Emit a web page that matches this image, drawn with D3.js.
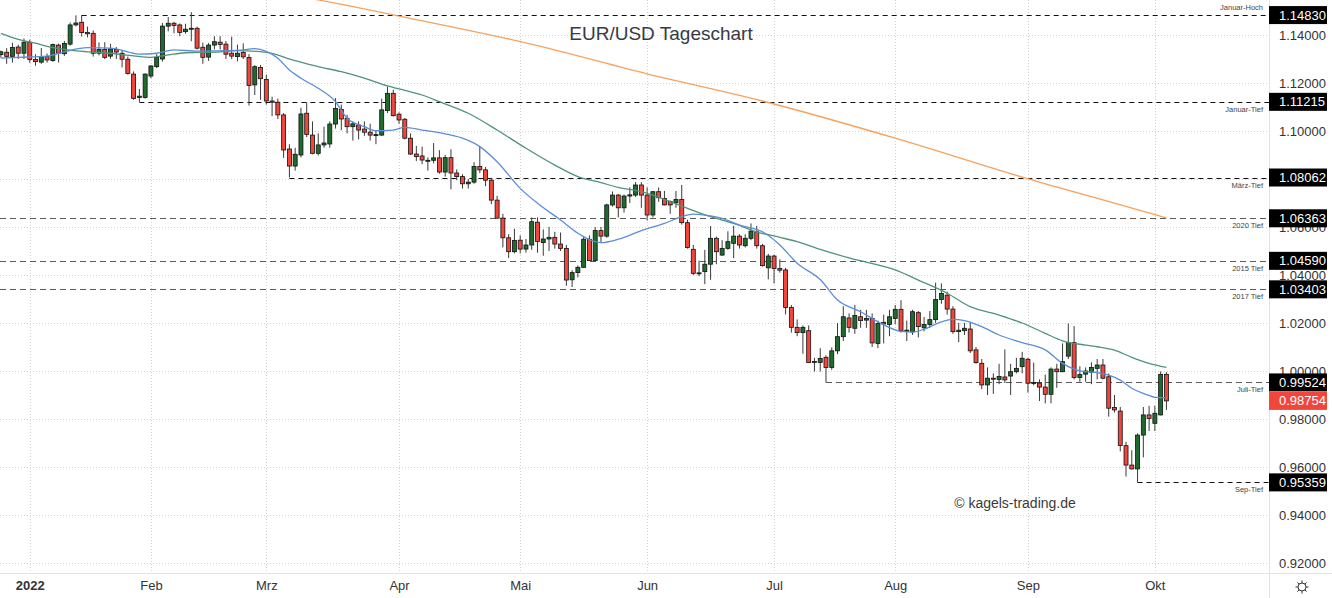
<!DOCTYPE html>
<html><head><meta charset="utf-8">
<script src="https://cdn.jsdelivr.net/npm/d3@7"></script>
<style>html,body{margin:0;padding:0;background:#fff;overflow:hidden}</style>
</head><body>
<svg id="chart" width="1332" height="598"></svg>
<script>
// ---------- DATA ----------
const dates = [
"2021-12-27","2021-12-28","2021-12-29","2021-12-30","2021-12-31",
"2022-01-03","2022-01-04","2022-01-05","2022-01-06","2022-01-07","2022-01-10","2022-01-11","2022-01-12","2022-01-13","2022-01-14","2022-01-17","2022-01-18","2022-01-19","2022-01-20","2022-01-21","2022-01-24","2022-01-25","2022-01-26","2022-01-27","2022-01-28","2022-01-31",
"2022-02-01","2022-02-02","2022-02-03","2022-02-04","2022-02-07","2022-02-08","2022-02-09","2022-02-10","2022-02-11","2022-02-14","2022-02-15","2022-02-16","2022-02-17","2022-02-18","2022-02-21","2022-02-22","2022-02-23","2022-02-24","2022-02-25","2022-02-28",
"2022-03-01","2022-03-02","2022-03-03","2022-03-04","2022-03-07","2022-03-08","2022-03-09","2022-03-10","2022-03-11","2022-03-14","2022-03-15","2022-03-16","2022-03-17","2022-03-18","2022-03-21","2022-03-22","2022-03-23","2022-03-24","2022-03-25","2022-03-28","2022-03-29","2022-03-30","2022-03-31",
"2022-04-01","2022-04-04","2022-04-05","2022-04-06","2022-04-07","2022-04-08","2022-04-11","2022-04-12","2022-04-13","2022-04-14","2022-04-15","2022-04-18","2022-04-19","2022-04-20","2022-04-21","2022-04-22","2022-04-25","2022-04-26","2022-04-27","2022-04-28","2022-04-29",
"2022-05-02","2022-05-03","2022-05-04","2022-05-05","2022-05-06","2022-05-09","2022-05-10","2022-05-11","2022-05-12","2022-05-13","2022-05-16","2022-05-17","2022-05-18","2022-05-19","2022-05-20","2022-05-23","2022-05-24","2022-05-25","2022-05-26","2022-05-27","2022-05-30","2022-05-31",
"2022-06-01","2022-06-02","2022-06-03","2022-06-06","2022-06-07","2022-06-08","2022-06-09","2022-06-10","2022-06-13","2022-06-14","2022-06-15","2022-06-16","2022-06-17","2022-06-20","2022-06-21","2022-06-22","2022-06-23","2022-06-24","2022-06-27","2022-06-28","2022-06-29","2022-06-30",
"2022-07-01","2022-07-04","2022-07-05","2022-07-06","2022-07-07","2022-07-08","2022-07-11","2022-07-12","2022-07-13","2022-07-14","2022-07-15","2022-07-18","2022-07-19","2022-07-20","2022-07-21","2022-07-22","2022-07-25","2022-07-26","2022-07-27","2022-07-28","2022-07-29",
"2022-08-01","2022-08-02","2022-08-03","2022-08-04","2022-08-05","2022-08-08","2022-08-09","2022-08-10","2022-08-11","2022-08-12","2022-08-15","2022-08-16","2022-08-17","2022-08-18","2022-08-19","2022-08-22","2022-08-23","2022-08-24","2022-08-25","2022-08-26","2022-08-29","2022-08-30","2022-08-31",
"2022-09-01","2022-09-02","2022-09-05","2022-09-06","2022-09-07","2022-09-08","2022-09-09","2022-09-12","2022-09-13","2022-09-14","2022-09-15","2022-09-16","2022-09-19","2022-09-20","2022-09-21","2022-09-22","2022-09-23","2022-09-26","2022-09-27","2022-09-28","2022-09-29","2022-09-30",
"2022-10-03","2022-10-04","2022-10-05"];

const open = [
1.1318,1.1328,1.1311,1.1350,1.1324,
1.1370,1.1298,1.1287,1.1310,1.1294,1.1358,1.1322,1.1362,1.1442,1.1453,1.1411,1.1407,1.1324,1.1340,1.1312,1.1340,1.1324,1.1299,1.1237,1.1140,1.1140,
1.1229,1.1268,1.1300,1.1437,1.1449,1.1442,1.1414,1.1424,1.1428,1.1349,1.1308,1.1358,1.1370,1.1362,1.1324,1.1310,1.1327,1.1306,1.1192,1.1265,
1.1215,1.1125,1.1120,1.1067,1.0925,1.0854,1.0900,1.1074,1.0983,1.0907,1.0942,1.0946,1.1029,1.1090,1.1053,1.1018,1.1025,1.1008,1.0995,1.0983,1.0983,1.1085,1.1157,
1.1070,1.1049,1.0970,1.0904,1.0896,1.0877,1.0878,1.0888,1.0829,1.0889,1.0825,1.0810,1.0780,1.0787,1.0852,1.0838,1.0795,1.0712,1.0637,1.0555,1.0497,
1.0545,1.0508,1.0525,1.0620,1.0535,1.0550,1.0557,1.0529,1.0511,1.0380,1.0410,1.0432,1.0549,1.0460,1.0585,1.0562,1.0692,1.0733,1.0680,1.0729,1.0733,1.0775,
1.0733,1.0650,1.0747,1.0719,1.0706,1.0701,1.0715,1.0618,1.0507,1.0407,1.0414,1.0445,1.0553,1.0483,1.0511,1.0532,1.0562,1.0522,1.0553,1.0580,1.0522,1.0430,
1.0479,1.0427,1.0421,1.0265,1.0182,1.0160,1.0168,1.0040,1.0035,1.0057,1.0015,1.0084,1.0143,1.0221,1.0178,1.0226,1.0212,1.0219,1.0115,1.0203,1.0194,
1.0219,1.0257,1.0167,1.0163,1.0243,1.0180,1.0194,1.0214,1.0298,1.0316,1.0258,1.0164,1.0168,1.0175,1.0088,1.0032,0.9942,0.9970,0.9965,0.9975,0.9979,0.9997,1.0018,
1.0049,0.9949,0.9950,0.9933,0.9903,1.0008,0.9997,1.0062,1.0118,0.9973,0.9987,0.9995,1.0011,1.0025,0.9976,0.9848,0.9833,0.9689,0.9608,0.9592,0.9733,0.9817,
0.9782,0.9817,0.9986];

const high = [
1.1335,1.1345,1.1368,1.1360,1.1385,
1.1380,1.1320,1.1346,1.1323,1.1364,1.1364,1.1375,1.1452,1.1482,1.1483,1.1435,1.1419,1.1369,1.1370,1.1363,1.1350,1.1335,1.1310,1.1248,1.1175,1.1240,
1.1274,1.1320,1.1450,1.1475,1.1455,1.1448,1.1447,1.1495,1.1435,1.1368,1.1367,1.1395,1.1395,1.1375,1.1393,1.1360,1.1365,1.1320,1.1274,1.1275,
1.1235,1.1143,1.1135,1.1075,1.0945,1.0930,1.1097,1.1120,1.1040,1.0990,1.1018,1.1040,1.1137,1.1110,1.1068,1.1040,1.1040,1.1040,1.1030,1.1000,1.1135,1.1185,1.1172,
1.1078,1.1054,1.0990,1.0938,1.0935,1.0890,1.0950,1.0920,1.0900,1.0924,1.0840,1.0820,1.0800,1.0870,1.0936,1.0850,1.0805,1.0730,1.0655,1.0570,1.0593,
1.0565,1.0550,1.0640,1.0640,1.0590,1.0600,1.0580,1.0577,1.0525,1.0420,1.0440,1.0560,1.0565,1.0600,1.0600,1.0697,1.0748,1.0738,1.0735,1.0765,1.0787,1.0787,
1.0765,1.0750,1.0765,1.0750,1.0710,1.0750,1.0775,1.0630,1.0525,1.0460,1.0505,1.0604,1.0560,1.0545,1.0582,1.0605,1.0570,1.0570,1.0615,1.0605,1.0530,1.0488,
1.0485,1.0465,1.0430,1.0275,1.0215,1.0190,1.0190,1.0055,1.0095,1.0065,1.0098,1.0200,1.0270,1.0240,1.0275,1.0255,1.0255,1.0240,1.0210,1.0235,1.0255,
1.0275,1.0295,1.0210,1.0255,1.0250,1.0225,1.0250,1.0368,1.0365,1.0330,1.0270,1.0200,1.0200,1.0200,1.0100,1.0050,1.0015,0.9990,1.0030,1.0090,1.0030,1.0055,1.0080,
1.0055,1.0035,0.9965,0.9985,1.0015,1.0030,1.0115,1.0198,1.0187,1.0020,1.0015,1.0036,1.0050,1.0050,0.9990,0.9900,0.9850,0.9705,0.9670,0.9740,0.9850,0.9855,
0.9855,0.9998,0.9995];

const low = [
1.1305,1.1280,1.1285,1.1300,1.1300,
1.1284,1.1272,1.1280,1.1285,1.1288,1.1285,1.1313,1.1355,1.1436,1.1394,1.1390,1.1310,1.1315,1.1300,1.1301,1.1300,1.1265,1.1235,1.1130,1.11215,1.1135,
1.1220,1.1262,1.1289,1.1415,1.1407,1.1395,1.1405,1.1374,1.1340,1.1280,1.1292,1.1340,1.1340,1.1300,1.1300,1.1290,1.1300,1.1106,1.1150,1.1130,
1.1110,1.1062,1.1050,1.0888,1.08062,1.0835,1.0890,1.0975,1.0903,1.0898,1.0930,1.0930,1.1010,1.1003,1.0990,1.0960,1.0965,1.0980,1.0960,1.0945,1.0980,1.1075,1.1060,
1.1030,1.0965,1.0900,1.0875,1.0862,1.0835,1.0865,1.0822,1.0810,1.0757,1.0795,1.0760,1.0760,1.0780,1.0825,1.0770,1.0695,1.0635,1.0515,1.0471,1.0490,
1.0490,1.0493,1.0505,1.0493,1.0480,1.0500,1.0510,1.0500,1.0355,1.0350,1.0390,1.0430,1.0460,1.0455,1.0535,1.0555,1.0685,1.0640,1.0660,1.0700,1.0725,1.0680,
1.0627,1.0640,1.0705,1.0690,1.0655,1.0680,1.0610,1.0510,1.0400,1.0395,1.0362,1.0380,1.0445,1.0480,1.0505,1.0470,1.0510,1.0515,1.0545,1.0510,1.0435,1.0382,
1.0365,1.0410,1.0236,1.0160,1.0145,1.0072,1.0035,0.9998,0.9998,0.99524,1.0005,1.0070,1.0125,1.0160,1.0155,1.0180,1.0180,1.0100,1.0095,1.0115,1.0145,
1.0195,1.0160,1.0125,1.0150,1.0140,1.0165,1.0180,1.0200,1.0280,1.0235,1.0155,1.0120,1.0150,1.0075,1.0030,0.9925,0.9900,0.9905,0.9945,0.9950,0.9900,0.9990,0.9990,
0.9910,0.9940,0.9875,0.9865,0.9865,0.9930,0.9995,1.0050,0.9965,0.9955,0.9955,0.9945,0.9965,0.9965,0.9810,0.9827,0.9665,0.9560,0.9590,0.95359,0.9640,0.9750,
0.9750,0.9815,0.9838];

const close = [
1.1330,1.1311,1.1348,1.1324,1.1370,
1.1298,1.1289,1.1310,1.1296,1.1360,1.1324,1.1365,1.1442,1.1450,1.1410,1.1405,1.1324,1.1340,1.1307,1.1342,1.1329,1.1299,1.1240,1.1136,1.1145,1.1237,
1.1271,1.1307,1.1437,1.1449,1.1440,1.1411,1.1424,1.1428,1.1345,1.1307,1.1358,1.1372,1.1361,1.1320,1.1312,1.1324,1.1309,1.1190,1.1268,1.1218,
1.1125,1.1120,1.1067,1.0921,1.0854,1.0903,1.1071,1.0986,1.0907,1.0942,1.0950,1.1029,1.1094,1.1050,1.1018,1.1030,1.1004,1.0995,1.0983,1.0985,1.1088,1.1157,1.1064,
1.1046,1.0970,1.0904,1.0893,1.0879,1.0878,1.0888,1.0829,1.0889,1.0825,1.0810,1.0780,1.0787,1.0852,1.0838,1.0795,1.0712,1.0637,1.0555,1.0497,1.0544,
1.0508,1.0525,1.0622,1.0540,1.0550,1.0557,1.0529,1.0511,1.0379,1.0410,1.0432,1.0549,1.0460,1.0585,1.0562,1.0692,1.0733,1.0680,1.0729,1.0734,1.0775,1.0733,
1.0650,1.0747,1.0722,1.0692,1.0692,1.0715,1.0618,1.0515,1.0407,1.0409,1.0445,1.0553,1.0497,1.0511,1.0539,1.0562,1.0525,1.0553,1.0583,1.0522,1.0439,1.0479,
1.0427,1.0420,1.0265,1.0182,1.0160,1.0182,1.0035,1.0037,1.0052,1.0015,1.0084,1.0143,1.0226,1.0182,1.0231,1.0210,1.0219,1.0117,1.0198,1.0196,1.0226,
1.0257,1.0167,1.0170,1.0247,1.0185,1.0194,1.0214,1.0298,1.0323,1.0258,1.0164,1.0170,1.0178,1.0084,1.0035,0.9942,0.9970,0.9968,0.9977,0.9963,0.9997,1.0011,1.0053,
0.9949,0.9952,0.9933,0.9903,1.0008,0.9997,1.0039,1.0118,0.9973,0.9985,1.0000,1.0015,1.0025,0.9970,0.9845,0.9838,0.9690,0.9608,0.9592,0.9733,0.9817,0.9802,
0.9824,0.9986,0.98754];

// moving averages, read at sample dates
const ma20Dates = ["2021-12-27","2021-12-30","2022-01-06","2022-01-11","2022-01-17","2022-01-21","2022-01-26","2022-01-28","2022-02-02","2022-02-07","2022-02-11","2022-02-22","2022-02-25","2022-03-01","2022-03-03","2022-03-07","2022-03-09","2022-03-14","2022-03-17","2022-03-21","2022-03-24","2022-03-28","2022-03-31","2022-04-04","2022-04-07","2022-04-12","2022-04-18","2022-04-21","2022-04-26","2022-05-02","2022-05-05","2022-05-11","2022-05-16","2022-05-20","2022-05-25","2022-05-31","2022-06-06","2022-06-09","2022-06-13","2022-06-16","2022-06-20","2022-06-23","2022-06-29","2022-07-04","2022-07-07","2022-07-13","2022-07-18","2022-07-22","2022-07-27","2022-08-02","2022-08-04","2022-08-08","2022-08-11","2022-08-15","2022-08-17","2022-08-22","2022-08-25","2022-08-31","2022-09-06","2022-09-09","2022-09-14","2022-09-19","2022-09-21","2022-09-23","2022-09-27","2022-09-30","2022-10-03","2022-10-05"];
const ma20Values = [1.1304,1.1307,1.1312,1.1330,1.1347,1.1345,1.1330,1.1320,1.1324,1.1338,1.1333,1.1336,1.1343,1.1332,1.1303,1.1254,1.1220,1.1178,1.1122,1.1053,1.1018,1.1001,1.1004,1.1015,1.1004,1.0993,1.0970,1.0935,1.0872,1.0761,1.0699,1.0629,1.0574,1.0535,1.0549,1.0585,1.0615,1.0643,1.0654,1.0646,1.0636,1.0608,1.0580,1.0525,1.0449,1.0381,1.0296,1.0247,1.0205,1.0165,1.0162,1.0174,1.0205,1.0215,1.0210,1.0185,1.0150,1.0118,1.0088,1.0032,1.0001,0.9993,0.9983,0.9962,0.9928,0.9898,0.9890,0.9889];

const ma50Dates = ["2021-12-27","2021-12-30","2022-01-04","2022-01-06","2022-01-11","2022-01-17","2022-01-21","2022-01-27","2022-02-01","2022-02-04","2022-02-09","2022-02-17","2022-02-22","2022-03-01","2022-03-08","2022-03-14","2022-03-18","2022-03-24","2022-03-30","2022-04-04","2022-04-07","2022-04-12","2022-04-19","2022-04-26","2022-05-03","2022-05-10","2022-05-16","2022-05-20","2022-05-25","2022-05-31","2022-06-06","2022-06-10","2022-06-16","2022-06-22","2022-06-28","2022-07-04","2022-07-07","2022-07-13","2022-07-20","2022-08-01","2022-08-05","2022-08-12","2022-08-18","2022-08-25","2022-08-31","2022-09-06","2022-09-09","2022-09-15","2022-09-19","2022-09-22","2022-09-27","2022-09-30","2022-10-05"];
const ma50Values = [1.1407,1.1382,1.1366,1.1353,1.1340,1.1330,1.1324,1.1313,1.1307,1.1317,1.1326,1.1330,1.1335,1.1328,1.1293,1.1268,1.1247,1.1220,1.1188,1.1169,1.1150,1.1122,1.1074,1.1004,1.0928,1.0858,1.0810,1.0785,1.0765,1.0747,1.0715,1.0678,1.0643,1.0615,1.0580,1.0557,1.0539,1.0507,1.0471,1.0421,1.0379,1.0324,1.0268,1.0233,1.0200,1.0157,1.0126,1.0108,1.0101,1.0087,1.0057,1.0032,1.0015];

const ma200Dates = ["2021-12-27","2022-02-03","2022-03-14","2022-04-01","2022-05-05","2022-06-01","2022-06-29","2022-08-02","2022-08-31","2022-09-20","2022-10-05"];
const ma200Values = [1.1760,1.1654,1.1546,1.1479,1.1356,1.1238,1.1125,1.0963,1.0808,1.0713,1.0638];

const levelValues = [1.14830, 1.11215, 1.08062, 1.06363, 1.04590, 1.03403, 0.99524, 0.95359];
const levelNames  = ["Januar-Hoch","Januar-Tief","März-Tief","2020 Tief","2015 Tief","2017 Tief","Juli-Tief","Sep-Tief"];
const levelStart  = ["2022-01-14","2022-01-28","2022-03-07",null,null,null,"2022-07-14","2022-09-28"];

const yTicks = [0.92,0.94,0.96,0.98,1.00,1.02,1.04,1.06,1.08,1.10,1.12,1.14];
const monthDates  = ["2022-01-03","2022-02-01","2022-03-01","2022-04-01","2022-05-02","2022-06-01","2022-07-01","2022-08-01","2022-09-01","2022-10-03"];
const monthLabels = ["2022","Feb","Mrz","Apr","Mai","Jun","Jul","Aug","Sep","Okt"];

const titleText = "EUR/USD Tageschart";
const watermark = "© kagels-trading.de";

// ---------- DRAW ----------
const W = 1332, H = 598, plotR = 1269, plotB = 573;
const FONT = "'Liberation Sans', Arial, sans-serif";
const svg = d3.select("#chart");
svg.append("rect").attr("width", W).attr("height", H).attr("fill", "#fff");

const x = d3.scaleLinear().domain([-0.156, 219.78]).range([0, plotR]);
const y = d3.scaleLinear().domain([0.92, 1.14]).range([563, 35]);
const di = d => dates.indexOf(d);

svg.append("defs").append("clipPath").attr("id", "plot")
  .append("rect").attr("x", 0).attr("y", 0).attr("width", plotR).attr("height", plotB);

const plot = svg.append("g").attr("clip-path", "url(#plot)");

// grid
plot.append("g").selectAll("line").data(yTicks).join("line")
  .attr("x1", 0).attr("x2", plotR)
  .attr("y1", d => Math.round(y(d)) + 0.5).attr("y2", d => Math.round(y(d)) + 0.5)
  .attr("stroke", "#cfd2d8").attr("stroke-dasharray", "1,2");
plot.append("g").selectAll("line").data(monthDates).join("line")
  .attr("x1", d => Math.round(x(di(d))) + 0.5).attr("x2", d => Math.round(x(di(d))) + 0.5)
  .attr("y1", 0).attr("y2", plotB)
  .attr("stroke", "#cfd2d8").attr("stroke-dasharray", "1,2");

// level lines
const levels = levelValues.map((v, i) => ({v, name: levelNames[i], start: levelStart[i], i}));
const grayLevel = d => d.start === null || d.name === "Juli-Tief";
plot.append("g").selectAll("line").data(levels).join("line")
  .attr("x1", d => d.start ? x(di(d.start)) : 0).attr("x2", plotR)
  .attr("y1", d => Math.round(y(d.v)) + 0.5).attr("y2", d => Math.round(y(d.v)) + 0.5)
  .attr("stroke", d => grayLevel(d) ? "#5a5a5a" : "#111")
  .attr("stroke-width", d => grayLevel(d) ? 1.2 : 1)
  .attr("stroke-dasharray", d => grayLevel(d) ? "6,4" : "5,4");
plot.append("g").selectAll("text").data(levels).join("text")
  .attr("x", 1263).attr("y", d => y(d.v) + (d.i === 0 ? -5 : 10))
  .attr("text-anchor", "end").attr("font-family", FONT).attr("font-size", 7.5)
  .attr("fill", "#444").text(d => d.name);

// candles
const cg = plot.append("g");
const bars = dates.map((d, i) => ({i, o: open[i], h: high[i], l: low[i], c: close[i]}));
cg.selectAll("line").data(bars).join("line")
  .attr("x1", d => x(d.i)).attr("x2", d => x(d.i))
  .attr("y1", d => y(d.h)).attr("y2", d => y(d.l))
  .attr("stroke", "#3a3a3a").attr("stroke-width", 1);
cg.selectAll("rect").data(bars).join("rect")
  .attr("x", d => x(d.i) - 2).attr("width", 4)
  .attr("y", d => y(Math.max(d.o, d.c)))
  .attr("height", d => Math.max(1, Math.abs(y(d.o) - y(d.c))))
  .attr("fill", d => d.c >= d.o ? "#1f6b2f" : "#f0463c")
  .attr("stroke", "#111").attr("stroke-width", 0.8);

// moving averages
const line = d3.line().x(d => x(d[0])).y(d => y(d[1])).curve(d3.curveMonotoneX);
const maSeries = [
  {dates: ma200Dates, vals: ma200Values, color: "#f7a25c"},
  {dates: ma50Dates, vals: ma50Values, color: "#4f9478"},
  {dates: ma20Dates, vals: ma20Values, color: "#5b8ed8"}
];
maSeries.forEach(s => {
  plot.append("path").datum(s.dates.map((d, i) => [di(d), s.vals[i]]))
    .attr("d", line).attr("fill", "none").attr("stroke", s.color).attr("stroke-width", 1.3);
});

// title & watermark
svg.append("text").attr("x", 661).attr("y", 40).attr("text-anchor", "middle")
  .attr("font-family", FONT).attr("font-size", 19).attr("fill", "#363a45").text(titleText);
svg.append("text").attr("x", 1015).attr("y", 508).attr("text-anchor", "middle")
  .attr("font-family", FONT).attr("font-size", 14).attr("fill", "#3a3a3a").text(watermark);

// axis frame
svg.append("line").attr("x1", 0).attr("x2", W).attr("y1", plotB + 0.5).attr("y2", plotB + 0.5)
  .attr("stroke", "#e0e3eb");
svg.append("line").attr("x1", plotR + 0.5).attr("x2", plotR + 0.5).attr("y1", 0).attr("y2", H)
  .attr("stroke", "#e0e3eb");

// y axis
const yAxis = d3.axisRight(y).tickValues(yTicks).tickFormat(d3.format(".5f")).tickSize(0).tickPadding(0);
const yg = svg.append("g").attr("transform", "translate(1279,0)").call(yAxis);
yg.select(".domain").remove();
yg.selectAll("text").attr("font-family", FONT).attr("font-size", 13).attr("fill", "#333");

// x axis
const xAxis = d3.axisBottom(x).tickValues(monthDates.map(di))
  .tickFormat((d, i) => monthLabels[i]).tickSize(0).tickPadding(8);
const xg = svg.append("g").attr("transform", `translate(0,${plotB})`).call(xAxis);
xg.select(".domain").remove();
xg.selectAll("text").attr("font-family", FONT).attr("font-size", 13).attr("fill", "#333")
  .attr("font-weight", (d, i) => i === 0 ? "bold" : "normal");

// price boxes
const boxes = levels.map(d => ({v: d.v, fill: "#000"}));
boxes.push({v: close[close.length - 1], fill: "#f0463c"});
const bg = svg.append("g").selectAll("g").data(boxes).join("g")
  .attr("transform", d => `translate(${plotR},${y(d.v)})`);
bg.append("rect").attr("x", 0).attr("y", -9).attr("width", 58).attr("height", 18).attr("fill", d => d.fill);
bg.append("text").attr("x", 10).attr("y", 4.5).attr("font-family", FONT).attr("font-size", 13)
  .attr("fill", "#fff").text(d => d3.format(".5f")(d.v));

// gear icon
const gear = svg.append("g").attr("transform", "translate(1302,587)").attr("stroke", "#333").attr("fill", "none");
gear.append("circle").attr("r", 4).attr("stroke-width", 1);
d3.range(8).forEach(k => {
  const a = k * Math.PI / 4;
  gear.append("line").attr("x1", Math.cos(a) * 4).attr("y1", Math.sin(a) * 4)
    .attr("x2", Math.cos(a) * 6.5).attr("y2", Math.sin(a) * 6.5).attr("stroke-width", 1);
});
</script>
</body></html>
